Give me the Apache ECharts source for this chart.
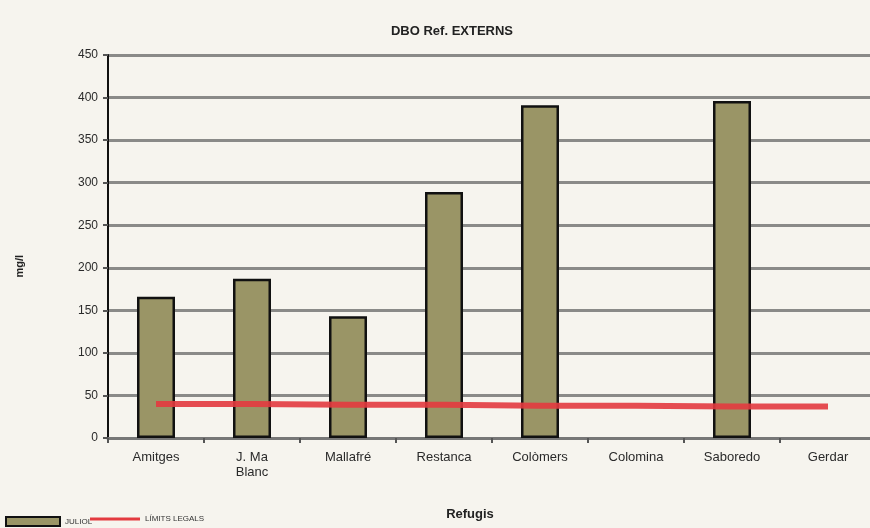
<!DOCTYPE html>
<html>
<head>
<meta charset="utf-8">
<script src="https://cdn.jsdelivr.net/npm/echarts@6/dist/echarts.min.js"></script>
<style>
  html, body { margin: 0; padding: 0; background: #f6f4ee; }
  #chart { width: 870px; height: 528px; }
</style>
</head>
<body>
<div id="chart"></div>
<script>
// dades llegides del gràfic
const refugis = ['Amitges', 'J. Ma\nBlanc', 'Mallafré', 'Restanca', 'Colòmers', 'Colomina', 'Saboredo', 'Gerdar']
const juliol = [166, 187, 143, 289, 391, null, 396, null]
const limitsLegals = [40, 40, 39, 39, 38, 38, 37, 37]
const yTicks = [0, 50, 100, 150, 200, 250, 300, 350, 400, 450]

const chart = echarts.init(document.getElementById('chart'))

const font = 'Liberation Sans, Arial, sans-serif'

chart.setOption({
  backgroundColor: '#f6f4ee',
  animation: false,
  title: {
    text: 'DBO Ref. EXTERNS',
    left: 447,
    top: 20,
    textAlign: 'center',
    textStyle: { fontFamily: font, fontSize: 13, fontWeight: 'bold', color: '#222' }
  },
  legend: [
    {
      left: 5,
      top: 516,
      padding: 0,
      itemWidth: 54,
      itemHeight: 9,
      itemGap: 4,
      textStyle: { fontFamily: font, fontSize: 8, color: '#333' },
      data: [{ name: 'JULIOL', icon: 'rect' }]
    },
    {
      left: 90,
      top: 515,
      padding: 0,
      itemWidth: 50,
      itemHeight: 3,
      textStyle: { fontFamily: font, fontSize: 8, color: '#333' },
      data: [{ name: 'LÍMITS LEGALS', icon: 'rect' }]
    }
  ],
  graphic: [
    {
      type: 'text',
      left: 14,
      top: 255,
      rotation: Math.PI / 2,
      style: { text: 'mg/l', fontFamily: font, fontSize: 11, fontWeight: 'bold', fill: '#222' }
    }
  ],
  grid: { left: 108, width: 768, top: 55, bottom: 90, outerBoundsMode: 'none' },
  xAxis: {
    type: 'category',
    data: refugis,
    name: 'Refugis',
    nameLocation: 'middle',
    nameGap: 70,
    nameTextStyle: { fontFamily: font, fontSize: 13, fontWeight: 'bold', color: '#222', padding: [0, 44, 0, 0] },
    axisLine: { lineStyle: { color: '#777', width: 3 } },
    axisTick: { show: true, length: 5, lineStyle: { color: '#555', width: 2 } },
    axisLabel: { fontFamily: font, fontSize: 13, color: '#2a2a2a', margin: 12, lineHeight: 15 }
  },
  yAxis: {
    type: 'value',
    min: yTicks[0],
    max: yTicks[yTicks.length - 1],
    interval: 50,
    axisLine: { show: true, lineStyle: { color: '#111', width: 2 } },
    axisTick: { show: true, inside: false, length: 5, lineStyle: { color: '#555', width: 2 } },
    axisLabel: { fontFamily: font, fontSize: 12, color: '#2a2a2a', margin: 10 },
    splitLine: { lineStyle: { color: '#8a8a88', width: 3 } }
  },
  series: [
    {
      name: 'JULIOL',
      type: 'bar',
      data: juliol,
      barWidth: 38,
      itemStyle: { color: '#9a9566', borderColor: '#111', borderWidth: 2.5 }
    },
    {
      name: 'LÍMITS LEGALS',
      type: 'line',
      data: limitsLegals,
      symbol: 'none',
      lineStyle: { color: '#e33a3f', width: 6, opacity: 0.9 },
      itemStyle: { color: '#e33a3f' },
      z: 5
    }
  ]
})

window.addEventListener('resize', () => chart.resize())
</script>
</body>
</html>
